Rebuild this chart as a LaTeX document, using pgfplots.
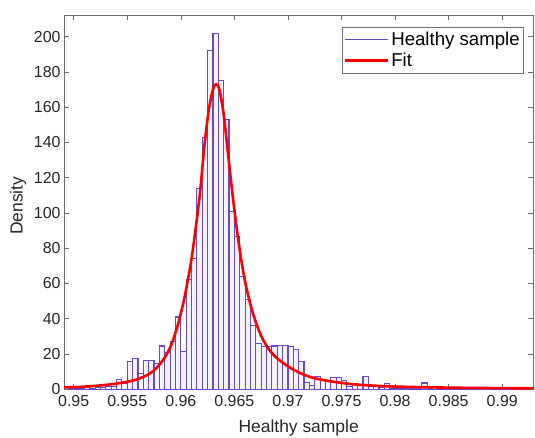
\documentclass[border=0pt]{standalone}
\usepackage{pgfplots}
\pgfplotsset{compat=1.18}
\usepackage{fontspec}
\setmainfont{Liberation Sans}
\definecolor{histc}{RGB}{104,72,204}
\definecolor{axc}{RGB}{110,110,110}
\begin{document}
\begin{tikzpicture}
\begin{axis}[
  scale only axis, width=469bp, height=374bp,
  xmin=0.9491, xmax=0.9929, ymin=0, ymax=212.3,
  scaled x ticks=false,
  xtick={0.95,0.955,0.96,0.965,0.97,0.975,0.98,0.985,0.99},
  xticklabels={0.95,0.955,0.96,0.965,0.97,0.975,0.98,0.985,0.99},
  ytick={0,20,40,60,80,100,120,140,160,180,200},
  tick align=inside, major tick length=5bp,
  axis line style={axc}, tick style={axc, line width=0.6bp},
  tick label style={font=\fontsize{16}{16}\selectfont, text=black!85},
  xticklabel style={yshift=-3bp},
  /pgf/number format/assume math mode=true,
  xlabel={Healthy sample}, ylabel={Density},
  label style={font=\fontsize{17.5}{17.5}\selectfont, text=black!85},
  xlabel style={at={(axis description cs:0.5,0)}, anchor=center, yshift=-39bp},
  ylabel style={at={(axis description cs:-0.098,0.49)}, anchor=center},
  legend style={at={(0.978,0.968)}, anchor=north east, draw=axc,
    font=\fontsize{18.7}{18.7}\selectfont, inner xsep=1bp, inner ysep=3bp,
    row sep=2bp, cells={anchor=west}},
]
\addlegendimage{no markers, histc, line width=1.5bp, legend image code/.code={\draw[histc, line width=1.5bp] (0bp,0bp) -- (43bp,0bp);}}
\addlegendentry{Healthy sample}
\addlegendimage{no markers, red, line width=2.6bp, legend image code/.code={\draw[red, line width=2.6bp] (0bp,0bp) -- (43bp,0bp);}}
\addlegendentry{Fit}
\addplot[ybar interval, fill=histc!7, draw=histc, line width=1.1bp, forget plot] coordinates {
(0.9495,0.5) (0.9500,0.5) (0.9505,0.5) (0.9510,1) (0.9515,0.5) (0.9520,1)
(0.9525,1) (0.9530,1.5) (0.9535,1.5) (0.9540,5.7) (0.9545,3) (0.9550,15.5)
(0.9555,17.6) (0.9560,9) (0.9565,16.5) (0.9570,16.5) (0.9575,14.5) (0.9580,24.5)
(0.9585,21) (0.9590,27) (0.9595,41) (0.9600,21.6) (0.9605,62) (0.9610,74)
(0.9615,114) (0.9620,143) (0.9625,192) (0.9630,202) (0.9635,175) (0.9640,153)
(0.9645,101) (0.9650,86.5) (0.9655,64) (0.9660,51) (0.9665,36) (0.9670,26)
(0.9675,24) (0.9680,24) (0.9685,24.5) (0.9690,25) (0.9695,25) (0.9700,24)
(0.9705,22.6) (0.9710,15.5) (0.9715,4) (0.9720,2.3) (0.9725,7.4) (0.9730,5)
(0.9735,5) (0.9740,6.6) (0.9745,6.6) (0.9750,5) (0.9755,1.5) (0.9760,3)
(0.9765,2) (0.9770,7.4) (0.9775,1.5) (0.9780,1.5) (0.9785,1) (0.9790,3)
(0.9795,0.5) (0.9800,0.5) (0.9805,0.5) (0.9810,0.5) (0.9815,0.5) (0.9820,0.5)
(0.9825,3.5) (0.9830,0.5) (0.9835,0) (0.9840,0.5) (0.9845,0.5) (0.9850,0)
(0.9855,0.5) (0.9860,0.5) (0.9865,0) (0.9870,0.5) (0.9875,0) (0.9880,0.5)
(0.9885,0.5) (0.9890,0) (0.9895,0.5) (0.9900,0) (0.9905,0.5) (0.9910,0.5)
(0.9915,0) (0.9920,1) (0.9925,1)
};
\addplot[red, line width=2.6bp, smooth, forget plot] coordinates {
(0.9491,1.0) (0.9505,1.3) (0.9520,1.9) (0.9535,2.8) (0.9550,4.2) (0.9560,5.8)
(0.9570,8.5) (0.9578,12.5) (0.9585,18) (0.9591,25) (0.9597,36) (0.9602,48)
(0.9606,60) (0.9610,74) (0.9614,92) (0.9618,112) (0.9622,138) (0.9626,158)
(0.9630,170) (0.9633,173) (0.9636,170) (0.9640,156) (0.9644,134) (0.9648,112)
(0.9652,92) (0.9656,75) (0.9660,61) (0.9665,48) (0.9670,38) (0.9676,29)
(0.9683,22) (0.9690,17.5) (0.9700,13) (0.9712,9) (0.9725,6.2) (0.9745,4)
(0.9767,2.5) (0.9800,1.5) (0.9850,0.9) (0.9900,0.6) (0.9929,0.5)
};
\end{axis}
\pgfresetboundingbox
\path ([xshift=-64bp,yshift=15bp]current axis.north west) rectangle ([xshift=1.7bp,yshift=-48.7bp]current axis.south east);
\end{tikzpicture}
\end{document}
